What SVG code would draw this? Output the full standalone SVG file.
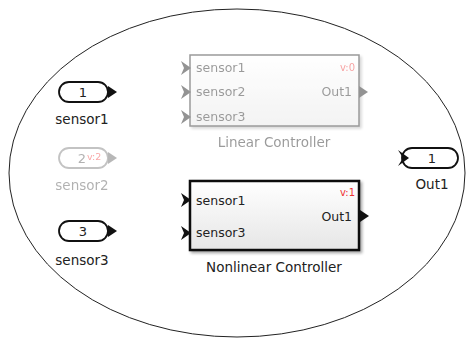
<svg xmlns="http://www.w3.org/2000/svg" width="466" height="339" viewBox="0 0 466 339">
<style>
text{font-family:"DejaVu Sans","Liberation Sans",Arial,sans-serif}
.lbl{font-size:13.5px;fill:#222;text-anchor:middle}
.pill{fill:#fff;stroke:#111;stroke-width:1.8}
.num{font-size:13px;fill:#222;text-anchor:middle}
.pt{font-size:12.5px;fill:#222}
.ver{font-size:10px;fill:#e33;text-anchor:end}
</style>
<defs>
<linearGradient id="bg" x1="0" y1="0" x2="0" y2="1">
<stop offset="0" stop-color="#ffffff"/>
<stop offset="1" stop-color="#e6e6e6"/>
</linearGradient>
<filter id="sh" x="-10%" y="-10%" width="125%" height="130%">
<feGaussianBlur in="SourceAlpha" stdDeviation="1.5"/>
<feOffset dx="2" dy="2"/>
<feComponentTransfer><feFuncA type="linear" slope="0.35"/></feComponentTransfer>
<feMerge><feMergeNode/><feMergeNode in="SourceGraphic"/></feMerge>
</filter>
<path id="inArrow" d="M0,-6 L9,0 L0,6 Z"/>
<path id="chev" d="M-9,-7 L1,0 L-9,7 L-6,0 Z"/>
<path id="ochev" d="M-11,-8 L0,0 L-11,8 L-6,0 Z"/>
</defs>
<rect width="466" height="339" fill="#fff"/>
<ellipse cx="237" cy="173" rx="228" ry="164" fill="none" stroke="#222" stroke-width="1"/>
<g id="connectors"></g>
<g id="inport1">
<rect class="pill" x="59" y="82" width="49" height="20" rx="10"/>
<use href="#inArrow" x="108" y="92" fill="#111"/>
<text class="num" x="83" y="97">1</text>
<text class="lbl" x="82" y="124">sensor1</text>
</g>
<g id="inport2" style="opacity:0.35">
<rect class="pill" x="59" y="148" width="49" height="20" rx="10" style="stroke:#555"/>
<use href="#inArrow" x="108" y="158" fill="#333"/>
<text class="num" x="82" y="163">2</text>
<text x="87" y="160" style="font-size:9.5px;fill:#e00">v:2</text>
<text class="lbl" x="82" y="190">sensor2</text>
</g>
<g id="inport3">
<rect class="pill" x="59" y="221" width="49" height="20" rx="10"/>
<use href="#inArrow" x="108" y="231" fill="#111"/>
<text class="num" x="83" y="236">3</text>
<text class="lbl" x="82" y="265">sensor3</text>
</g>
<g id="linear-controller" style="opacity:0.45">
<rect x="190" y="55" width="169" height="71" fill="url(#bg)" stroke="#222" stroke-width="1.5" filter="url(#sh)"/>
<use href="#chev" x="190" y="68" fill="#111"/>
<use href="#chev" x="190" y="92" fill="#111"/>
<use href="#chev" x="190" y="117" fill="#111"/>
<use href="#inArrow" x="359" y="92" fill="#111"/>
<text class="pt" x="196" y="72">sensor1</text>
<text class="pt" x="196" y="96">sensor2</text>
<text class="pt" x="196" y="121">sensor3</text>
<text class="ver" x="355" y="71">v:0</text>
<text class="pt" x="352" y="96" text-anchor="end">Out1</text>
<text class="lbl" x="274" y="147">Linear Controller</text>
</g>
<g id="nonlinear-controller">
<rect x="190" y="181" width="169" height="69" fill="url(#bg)" stroke="#111" stroke-width="2.5" filter="url(#sh)"/>
<use href="#chev" x="190" y="200" fill="#111"/>
<use href="#chev" x="190" y="233" fill="#111"/>
<use href="#inArrow" x="360" y="216" fill="#111"/>
<text class="pt" x="196" y="205">sensor1</text>
<text class="pt" x="196" y="237">sensor3</text>
<text class="ver" x="355" y="196">v:1</text>
<text class="pt" x="352" y="221" text-anchor="end">Out1</text>
<text class="lbl" x="274" y="272">Nonlinear Controller</text>
</g>
<g id="outport1">
<rect class="pill" x="402" y="148" width="56" height="20" rx="10"/>
<use href="#ochev" x="409" y="158" fill="#111"/>
<text class="num" x="432" y="163">1</text>
<text class="lbl" x="432" y="189">Out1</text>
</g>
</svg>
